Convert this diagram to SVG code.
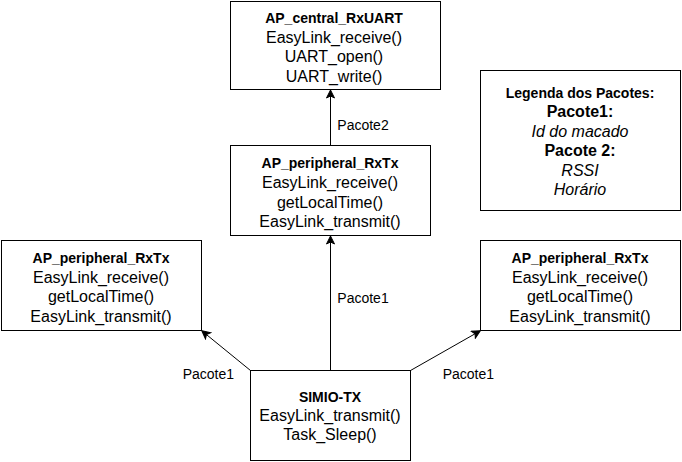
<svg xmlns="http://www.w3.org/2000/svg" width="682" height="462" viewBox="0 0 682 462">
  <style>
    .box { fill: #ffffff; stroke: #000000; stroke-width: 1; }
    text { font-family: "Liberation Sans", Arial, Helvetica, sans-serif; fill: #000000; text-anchor: middle; }
    .t { font-size: 14px; font-weight: bold; }
    .r { font-size: 16px; }
    .b16 { font-size: 16px; font-weight: bold; }
    .i { font-size: 16px; font-style: italic; }
    .lbl { font-size: 14px; text-anchor: start; }
    .edge { fill: none; stroke: #000000; stroke-width: 1; marker-end: url(#arr); }
  </style>
  <defs>
    <marker id="arr" viewBox="-9 -5 10 10" refX="0" refY="0" markerWidth="10" markerHeight="10" markerUnits="userSpaceOnUse" orient="auto">
      <path d="M0,0 L-8,-4 L-6,0 L-8,4 Z" fill="#000000" stroke="#000000" stroke-width="1" stroke-linejoin="miter"/>
    </marker>
  </defs>
  <rect width="682" height="462" fill="#ffffff"/>

  <g id="connectors">
    <line class="edge" x1="330.5" y1="145.5" x2="330.5" y2="90"/>
    <line class="edge" x1="330.5" y1="370.5" x2="330.5" y2="236"/>
    <line class="edge" x1="250.5" y1="370.5" x2="201.8" y2="330.8"/>
    <line class="edge" x1="410.5" y1="370.5" x2="480.3" y2="330.8"/>
    <text class="lbl" x="337.3" y="129.5">Pacote2</text>
    <text class="lbl" x="337.3" y="302.5">Pacote1</text>
    <text class="lbl" x="182.7" y="378.5">Pacote1</text>
    <text class="lbl" x="442.7" y="378.5">Pacote1</text>
  </g>

  <g id="ap-central">
    <rect class="box" x="230.5" y="1.5" width="210" height="88"/>
    <text class="t" x="334" y="22.5">AP_central_RxUART</text>
    <text class="r" x="334" y="42.5">EasyLink_receive()</text>
    <text class="r" x="334" y="62">UART_open()</text>
    <text class="r" x="334" y="81.5">UART_write()</text>
  </g>

  <g id="ap-peripheral-mid">
    <rect class="box" x="230.5" y="145.5" width="200" height="90"/>
    <text class="t" x="330" y="168">AP_peripheral_RxTx</text>
    <text class="r" x="330" y="188">EasyLink_receive()</text>
    <text class="r" x="330" y="207.5">getLocalTime()</text>
    <text class="r" x="330" y="227">EasyLink_transmit()</text>
  </g>

  <g id="ap-peripheral-left">
    <rect class="box" x="1.5" y="240.5" width="200" height="90"/>
    <text class="t" x="101" y="262.5">AP_peripheral_RxTx</text>
    <text class="r" x="101" y="282.5">EasyLink_receive()</text>
    <text class="r" x="101" y="302">getLocalTime()</text>
    <text class="r" x="101" y="321.5">EasyLink_transmit()</text>
  </g>

  <g id="ap-peripheral-right">
    <rect class="box" x="480.5" y="240.5" width="200" height="90"/>
    <text class="t" x="580" y="262.5">AP_peripheral_RxTx</text>
    <text class="r" x="580" y="282.5">EasyLink_receive()</text>
    <text class="r" x="580" y="302">getLocalTime()</text>
    <text class="r" x="580" y="321.5">EasyLink_transmit()</text>
  </g>

  <g id="legend">
    <rect class="box" x="480.5" y="70.5" width="200" height="140"/>
    <text class="t" x="580" y="97.5">Legenda dos Pacotes:</text>
    <text class="b16" x="580" y="116.5">Pacote1:</text>
    <text class="i" x="580" y="136.5">Id do macado</text>
    <text class="b16" x="580" y="156">Pacote 2:</text>
    <text class="i" x="580" y="175.5">RSSI</text>
    <text class="i" x="580" y="194.5">Horário</text>
  </g>

  <g id="simio-tx">
    <rect class="box" x="250.5" y="370.5" width="160" height="90"/>
    <text class="t" x="330" y="401.5">SIMIO-TX</text>
    <text class="r" x="330" y="420.5">EasyLink_transmit()</text>
    <text class="r" x="330" y="440">Task_Sleep()</text>
  </g>
</svg>
